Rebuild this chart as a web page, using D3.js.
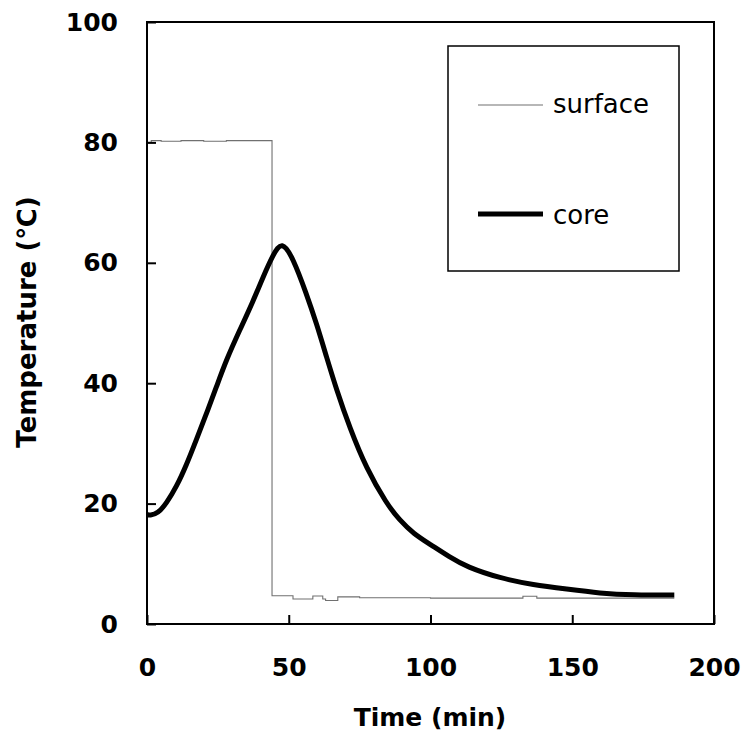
<!DOCTYPE html>
<html>
<head>
<meta charset="utf-8">
<script src="https://cdn.jsdelivr.net/npm/d3@7"></script>
<style>
  body { margin: 0; background: #fff; }
  text { font-family: "DejaVu Sans", sans-serif; }
</style>
</head>
<body>
<svg id="chart" width="745" height="738"></svg>
<script>
// surface temperature (step-like logger trace)
const surfaceTime = [0, 1.5, 5, 12, 20, 28, 36, 44.1, 44.1, 51.5, 58.5, 62, 63, 67.3, 75, 100, 132.6, 137.5, 160, 186];
const surfaceTemp = [80.0, 80.3, 80.2, 80.3, 80.2, 80.3, 80.3, 80.3, 4.7, 4.15, 4.65, 4.15, 3.9, 4.5, 4.35, 4.3, 4.6, 4.3, 4.3, 4.3];

// core temperature
const coreTime = [0, 1, 3.9, 6.8, 10.4, 13.9, 17.4, 21, 24.5, 28, 32.7, 37.4, 40.9, 44.5, 47.6, 51.5, 56.2, 59.8, 63.3, 66.8, 71.5, 77.4, 84.5, 89, 94, 100, 106.8, 112.7, 124.5, 136.3, 148, 159.8, 171.5, 186];
const coreTemp = [18.2, 18.0, 18.4, 20, 22.8, 26.4, 30.6, 35, 39.4, 43.9, 48.8, 53.6, 57.6, 61.4, 63.7, 60.8, 54.9, 49.9, 44.4, 39.0, 32.6, 25.8, 20.0, 17.3, 15.0, 13.2, 11.1, 9.5, 7.6, 6.5, 5.8, 5.1, 4.8, 4.8];

const xTicks = [0, 50, 100, 150, 200];
const yTicks = [0, 20, 40, 60, 80, 100];

const margin = { left: 147, right: 31, top: 22, bottom: 114 };

const svg = d3.select("#chart"),
  width = +svg.attr("width"),
  height = +svg.attr("height");

const x = d3.scaleLinear().domain([0, 200]).range([margin.left, width - margin.right]);
const y = d3.scaleLinear().domain([0, 100]).range([height - margin.bottom, margin.top]);

const surface = surfaceTime.map((t, i) => ({ t: t, v: surfaceTemp[i] }));
const core = coreTime.map((t, i) => ({ t: t, v: coreTemp[i] }));

// lines
svg.append("path")
  .datum(surface)
  .attr("fill", "none")
  .attr("stroke", "#707070")
  .attr("stroke-width", 1.1)
  .attr("d", d3.line().x(d => x(d.t)).y(d => y(d.v)).curve(d3.curveStepAfter));

svg.append("path")
  .datum(core)
  .attr("fill", "none")
  .attr("stroke", "#000")
  .attr("stroke-width", 5)
  .attr("d", d3.line().x(d => x(d.t)).y(d => y(d.v)).curve(d3.curveBasis));

// axes with inward ticks
svg.append("g")
  .attr("transform", `translate(0,${y(0)})`)
  .call(d3.axisBottom(x).tickValues(xTicks).tickSizeInner(-9).tickSizeOuter(0).tickPadding(34))
  .call(g => g.select(".domain").remove())
  .call(g => g.selectAll(".tick line").attr("stroke-width", 2))
  .call(g => g.selectAll(".tick text").attr("font-size", 25).attr("font-weight", "bold").attr("fill", "#000"));

svg.append("g")
  .attr("transform", `translate(${x(0)},0)`)
  .call(d3.axisLeft(y).tickValues(yTicks).tickSizeInner(-9).tickSizeOuter(0).tickPadding(29))
  .call(g => g.select(".domain").remove())
  .call(g => g.selectAll(".tick line").attr("stroke-width", 2))
  .call(g => g.selectAll(".tick text").attr("font-size", 25).attr("font-weight", "bold").attr("fill", "#000"));

// frame
svg.append("rect")
  .attr("x", x(0)).attr("y", y(100))
  .attr("width", x(200) - x(0)).attr("height", y(0) - y(100))
  .attr("fill", "none").attr("stroke", "#000").attr("stroke-width", 2);

// axis titles
svg.append("text")
  .attr("x", 430).attr("y", 726)
  .attr("text-anchor", "middle")
  .attr("font-size", 25).attr("font-weight", "bold")
  .text("Time (min)");

svg.append("text")
  .attr("transform", "translate(36,322) rotate(-90)")
  .attr("text-anchor", "middle")
  .attr("font-size", 26).attr("font-weight", "bold")
  .text("Temperature (℃)");

// legend
const legend = svg.append("g");
legend.append("rect")
  .attr("x", 448).attr("y", 46).attr("width", 231).attr("height", 225)
  .attr("fill", "#fff").attr("stroke", "#000").attr("stroke-width", 1.5);
legend.append("line")
  .attr("x1", 478).attr("x2", 543).attr("y1", 105).attr("y2", 105)
  .attr("stroke", "#707070").attr("stroke-width", 1.1);
legend.append("text").attr("x", 553).attr("y", 113).attr("font-size", 26).text("surface");
legend.append("line")
  .attr("x1", 478).attr("x2", 543).attr("y1", 214).attr("y2", 214)
  .attr("stroke", "#000").attr("stroke-width", 5);
legend.append("text").attr("x", 553).attr("y", 224).attr("font-size", 26).text("core");
</script>
</body>
</html>
